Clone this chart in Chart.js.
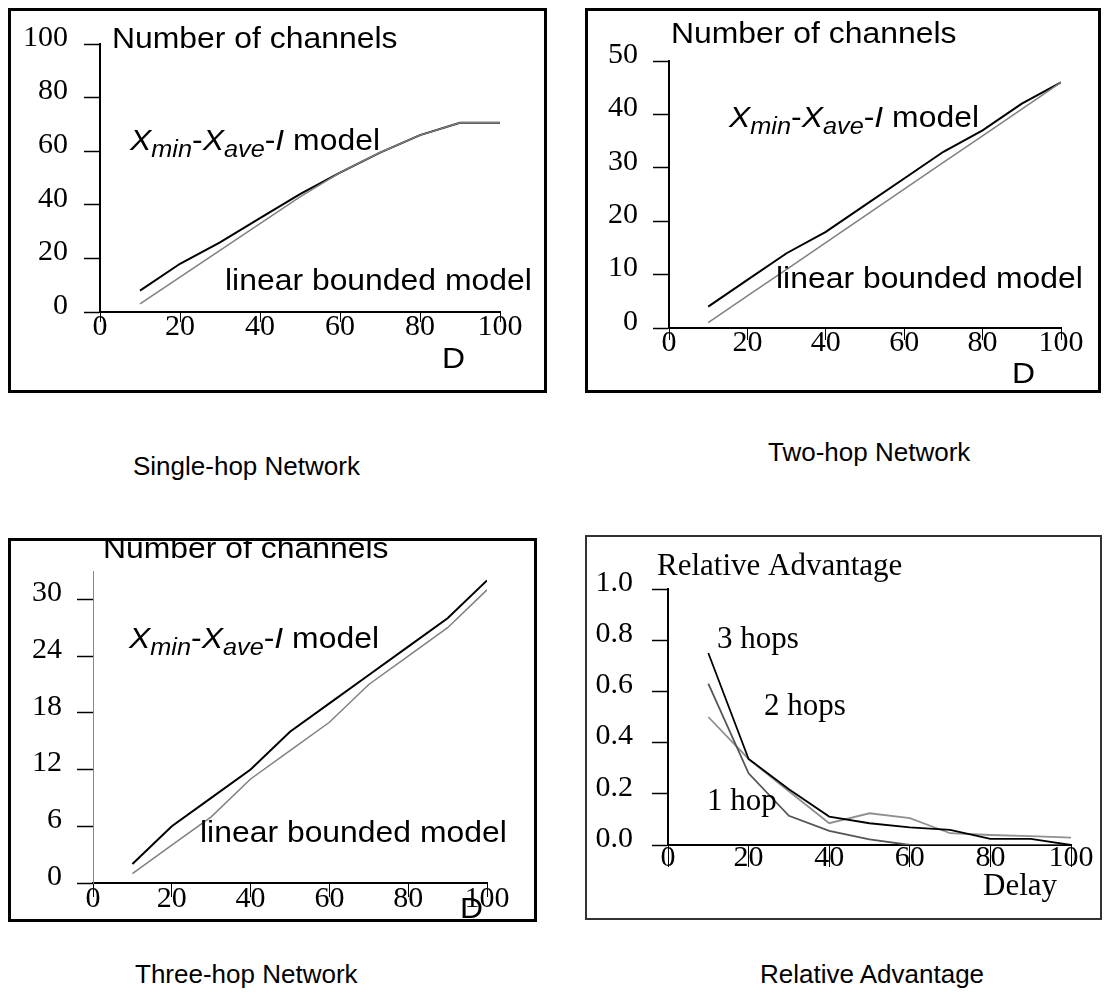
<!DOCTYPE html>
<html>
<head>
<meta charset="utf-8">
<script src="https://cdn.jsdelivr.net/npm/chart.js@4.4.1/dist/chart.umd.min.js"></script>
<style>
  body { margin: 0; background: #fff; width: 1107px; height: 1008px; position: relative; overflow: hidden; }
  canvas { position: absolute; }
  .cap { position: absolute; font: 26px 'Liberation Sans', Arial, sans-serif; line-height: 30px; color: #000; white-space: nowrap; }
</style>
</head>
<body>
<canvas id="single" width="539" height="385" style="left:8px;top:8px"></canvas>
<canvas id="twohop" width="516" height="385" style="left:585px;top:8px"></canvas>
<canvas id="threehop" width="529" height="384" style="left:8px;top:538px"></canvas>
<canvas id="advantage" width="517" height="385" style="left:585px;top:535px"></canvas>

<div class="cap" style="left:133px;top:451px">Single-hop Network</div>
<div class="cap" style="left:768px;top:437px">Two-hop Network</div>
<div class="cap" style="left:135px;top:959px">Three-hop Network</div>
<div class="cap" style="left:760px;top:959px">Relative Advantage</div>

<script>
/** data */
const delays = [10, 20, 30, 40, 50, 60, 70, 80, 90, 100];
const xTicks = [0, 20, 40, 60, 80, 100];

const singleXmin = [8, 18, 26, 35, 44, 52, 59.5, 66, 70.6, 70.6];
const singleLinear = [3, 13, 23, 33, 43, 52, 59.5, 66, 70.6, 70.6];
const singleYTicks = [0, 20, 40, 60, 80, 100];

const twoHopXmin = [4, 9, 14, 18, 23, 28, 33, 37, 42, 46];
const twoHopLinear = [1, 6, 11, 16, 21, 26, 31, 36, 41, 46];
const twoHopYTicks = [0, 10, 20, 30, 40, 50];

const threeHopXmin = [2, 6, 9, 12, 16, 19, 22, 25, 28, 32];
const threeHopLinear = [1, 4, 7, 11, 14, 17, 21, 24, 27, 31];
const threeHopYTicks = [0, 6, 12, 18, 24, 30];

const advThreeHops = [0.75, 0.336, 0.218, 0.111, 0.085, 0.069, 0.059, 0.024, 0.024, 0];
const advTwoHops = [0.63, 0.28, 0.114, 0.055, 0.022, 0, 0, 0, 0, 0];
const advOneHop = [0.5, 0.336, 0.21, 0.085, 0.124, 0.105, 0.046, 0.039, 0.035, 0.029];
const advYTicks = [0, 0.2, 0.4, 0.6, 0.8, 1.0];

const SANS = "'Liberation Sans', Arial, sans-serif";
const SERIF = "'Liberation Serif', 'Times New Roman', serif";

const points = (ys) => delays.map((d, i) => ({ x: d, y: ys[i] }));

// box border around each panel
const framePlugin = {
  id: 'frame',
  beforeDraw(chart, args, opts) {
    const { ctx, width, height } = chart;
    const w = opts.width || 3;
    ctx.save();
    ctx.strokeStyle = opts.color || '#000';
    ctx.lineWidth = w;
    ctx.strokeRect(w / 2, w / 2, width - w, height - w);
    ctx.restore();
  },
};

// free text inside the plot (titles, model names, axis names)
const notesPlugin = {
  id: 'notes',
  afterDraw(chart, args, opts) {
    const ctx = chart.ctx;
    (opts.items || []).forEach((item) => {
      ctx.save();
      ctx.translate(item.x, item.y);
      ctx.scale(item.sx || 1, 1);
      ctx.fillStyle = '#000';
      ctx.textAlign = 'left';
      ctx.textBaseline = 'alphabetic';
      let cx = 0;
      item.parts.forEach((p) => {
        ctx.font = `${p.style || 'normal'} ${p.size}px ${p.family}`;
        ctx.fillText(p.t, cx, p.dy || 0);
        cx += ctx.measureText(p.t).width;
      });
      ctx.restore();
    });
  },
};

const sansNote = (t, x, y) => ({ x, y, sx: 1.1, parts: [{ t, size: 29, family: SANS }] });
const serifNote = (t, x, y) => ({ x, y, parts: [{ t, size: 31, family: SERIF }] });
const modelNote = (x, y) => ({
  x, y, sx: 1.1,
  parts: [
    { t: 'X', style: 'italic', size: 29, family: SANS },
    { t: 'min', style: 'italic', size: 23, family: SANS, dy: 7 },
    { t: '-', size: 29, family: SANS },
    { t: 'X', style: 'italic', size: 29, family: SANS },
    { t: 'ave', style: 'italic', size: 23, family: SANS, dy: 7 },
    { t: '-', size: 29, family: SANS },
    { t: 'I', style: 'italic', size: 29, family: SANS },
    { t: ' model', size: 29, family: SANS },
  ],
});

function panelOptions(p) {
  return {
    responsive: false,
    animation: false,
    devicePixelRatio: 1,
    layout: {
      autoPadding: false,
      padding: { left: 0, top: p.top, right: p.right, bottom: 0 },
    },
    elements: { point: { radius: 0 }, line: { tension: 0 } },
    plugins: {
      legend: { display: false },
      tooltip: { enabled: false },
      frame: p.frame,
      notes: { items: p.notes },
    },
    scales: {
      x: {
        type: 'linear',
        min: 0,
        max: 100,
        afterFit: (s) => { s.height = p.bottom; },
        afterBuildTicks: (s) => { s.ticks = xTicks.map((v) => ({ value: v })); },
        grid: { drawOnChartArea: false, drawTicks: true, tickLength: p.xTickLen, tickColor: '#000', tickWidth: 1 },
        border: { display: true, color: '#000', width: 2 },
        ticks: {
          color: '#000',
          font: { family: SERIF, size: 30 },
          padding: p.xPad,
          maxRotation: 0,
          autoSkip: false,
        },
      },
      y: {
        type: 'linear',
        min: 0,
        max: p.yMax,
        afterFit: (s) => { s.width = p.left; },
        afterBuildTicks: (s) => { s.ticks = p.yTicks.map((v) => ({ value: v })); },
        grid: { drawOnChartArea: false, drawTicks: true, tickLength: 16, tickColor: '#000', tickWidth: 1.5 },
        border: { display: true, color: p.yAxisColor || '#000', width: p.yAxisWidth || 2 },
        ticks: {
          color: '#000',
          font: { family: SERIF, size: 30 },
          padding: p.yPad,
          labelOffset: -6,
          autoSkip: false,
          callback: p.yFormat || ((v) => v),
        },
      },
    },
  };
}

/** Single-hop Network */
const singleChart = new Chart(document.getElementById('single'), {
  type: 'line',
  plugins: [framePlugin, notesPlugin],
  data: {
    datasets: [
      { label: 'linear bounded model', data: points(singleLinear), borderColor: '#808080', borderWidth: 1.5, order: 0 },
      { label: 'Xmin-Xave-I model', data: points(singleXmin), borderColor: '#000', borderWidth: 2, order: 1 },
    ],
  },
  options: panelOptions({
    left: 92, top: 36, right: 47, bottom: 81,
    yMax: 100, yTicks: singleYTicks, xTickLen: 10, xPad: -13, yPad: 16,
    frame: { width: 3, color: '#000' },
    notes: [
      sansNote('Number of channels', 104, 40),
      modelNote(122, 142),
      sansNote('linear bounded model', 217, 282),
      sansNote('D', 434, 360),
    ],
  }),
});

/** Two-hop Network */
const twoHopChart = new Chart(document.getElementById('twohop'), {
  type: 'line',
  plugins: [framePlugin, notesPlugin],
  data: {
    datasets: [
      { label: 'linear bounded model', data: points(twoHopLinear), borderColor: '#808080', borderWidth: 1.5, order: 0 },
      { label: 'Xmin-Xave-I model', data: points(twoHopXmin), borderColor: '#000', borderWidth: 2, order: 1 },
    ],
  },
  options: panelOptions({
    left: 84, top: 53, right: 40, bottom: 65,
    yMax: 50, yTicks: twoHopYTicks, xTickLen: 12, xPad: -15, yPad: 15,
    frame: { width: 3, color: '#000' },
    notes: [
      sansNote('Number of channels', 86, 35),
      modelNote(144, 119),
      sansNote('linear bounded model', 191, 280),
      sansNote('D', 427, 375),
    ],
  }),
});

/** Three-hop Network */
const threeHopChart = new Chart(document.getElementById('threehop'), {
  type: 'line',
  plugins: [framePlugin, notesPlugin],
  data: {
    datasets: [
      { label: 'linear bounded model', data: points(threeHopLinear), borderColor: '#808080', borderWidth: 1.5, order: 0 },
      { label: 'Xmin-Xave-I model', data: points(threeHopXmin), borderColor: '#000', borderWidth: 2, order: 1 },
    ],
  },
  options: panelOptions({
    left: 85, top: 22, right: 50, bottom: 39,
    yMax: 33, yTicks: threeHopYTicks, xTickLen: 14, xPad: -16, yPad: 15,
    yAxisColor: '#888', yAxisWidth: 1,
    frame: { width: 3, color: '#000' },
    notes: [
      sansNote('Number of channels', 95, 20),
      modelNote(121, 110),
      sansNote('linear bounded model', 192, 304),
      sansNote('D', 452, 380),
    ],
  }),
});

/** Relative Advantage */
const advantageChart = new Chart(document.getElementById('advantage'), {
  type: 'line',
  plugins: [framePlugin, notesPlugin],
  data: {
    datasets: [
      { label: '3 hops', data: points(advThreeHops), borderColor: '#000', borderWidth: 1.8, order: 0 },
      { label: '2 hops', data: points(advTwoHops), borderColor: '#555', borderWidth: 1.8, order: 1 },
      { label: '1 hop', data: points(advOneHop), borderColor: '#909090', borderWidth: 1.8, order: 2 },
    ],
  },
  options: panelOptions({
    left: 83, top: 54, right: 31, bottom: 75,
    yMax: 1, yTicks: advYTicks, xTickLen: 22, xPad: -27, yPad: 19,
    yFormat: (v) => v.toFixed(1),
    frame: { width: 2, color: '#333' },
    notes: [
      serifNote('Relative Advantage', 72, 40),
      serifNote('3 hops', 132, 113),
      serifNote('2 hops', 179, 180),
      serifNote('1 hop', 122, 275),
      serifNote('Delay', 398, 360),
    ],
  }),
});
</script>
</body>
</html>
